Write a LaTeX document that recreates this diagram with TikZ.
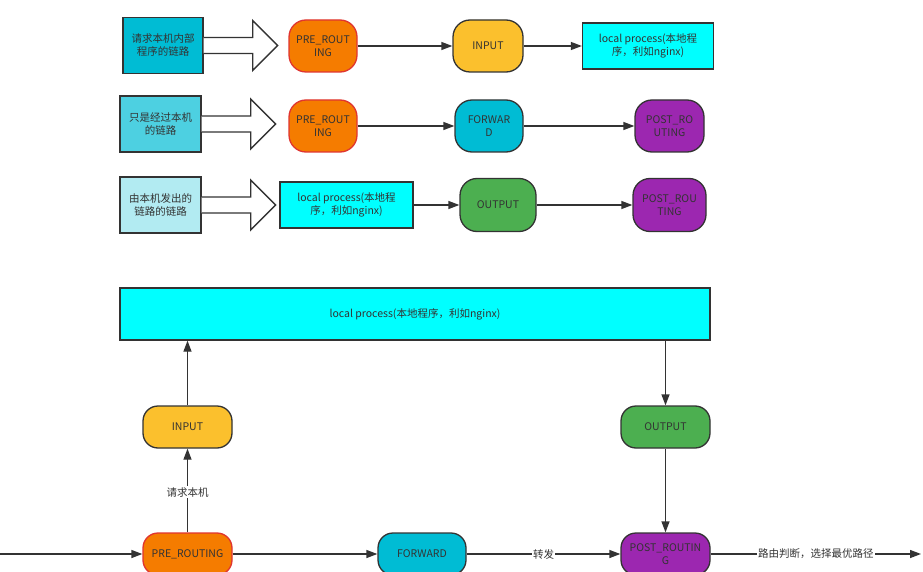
\documentclass[tikz,border=0pt]{standalone}
\usepackage{fontspec}
\setmainfont{Noto Sans CJK SC}
\usetikzlibrary{arrows.meta}
\definecolor{bd}{HTML}{333333}
\definecolor{txt}{HTML}{333333}
\definecolor{cyanA}{HTML}{00BCD4}
\definecolor{cyanB}{HTML}{4DD0E1}
\definecolor{cyanC}{HTML}{B2EBF2}
\definecolor{aqua}{HTML}{00FFFF}
\definecolor{orangeN}{HTML}{F57C00}
\definecolor{redB}{HTML}{E03530}
\definecolor{yellowN}{HTML}{FBC02D}
\definecolor{purpleN}{HTML}{9C27B0}
\definecolor{greenN}{HTML}{4CAF50}
\begin{document}
\begin{tikzpicture}[x=1pt,y=-1pt,
  every node/.style={font=\fontsize{10.5}{13}\selectfont, text=txt, align=center, inner sep=0pt},
  rnode/.style={draw=bd, line width=1.3pt, rounded corners=17pt},
  rsmall/.style={draw=bd, line width=1.3pt, rounded corners=15pt},
  sbox/.style={draw=bd, line width=1.3pt},
  conn/.style={draw=bd, line width=1.3pt, -{Triangle[length=11pt,width=8pt]}},
  hollow/.style={draw=bd, fill=white, line width=1.3pt, line join=miter},
  lbl/.style={fill=white, inner sep=1pt}
]
\useasboundingbox (0,0) rectangle (923,572);
\fill[white] (0,0) rectangle (923,572);

% ---------- row 1 ----------
\node[sbox, fill=cyanA, minimum width=80pt, minimum height=56pt] (b1) at (163,45.5) {请求本机内部\\程序的链路};
\node[rnode, fill=orangeN, draw=redB, minimum width=68pt, minimum height=52pt] (pre1) at (323,46) {PRE\_ROUT\\ING};
\node[rnode, fill=yellowN, minimum width=70pt, minimum height=52pt] (in1) at (488,46) {INPUT};
\node[sbox, fill=aqua, minimum width=131pt, minimum height=46pt] (lp1) at (648,46) {local process(本地程\\序，利如nginx)};

% ---------- row 2 ----------
\node[sbox, fill=cyanB, minimum width=81pt, minimum height=56pt] (b2) at (160.5,124) {只是经过本机\\的链路};
\node[rnode, fill=orangeN, draw=redB, minimum width=68pt, minimum height=52pt] (pre2) at (323,126) {PRE\_ROUT\\ING};
\node[rnode, fill=cyanA, minimum width=68pt, minimum height=52pt] (fw1) at (489,126) {FORWAR\\D};
\node[rnode, fill=purpleN, minimum width=69pt, minimum height=52pt] (po1) at (669.5,126) {POST\_RO\\UTING};

% ---------- row 3 ----------
\node[sbox, fill=cyanC, minimum width=81pt, minimum height=56pt] (b3) at (160.5,205) {由本机发出的\\链路的链路};
\node[sbox, fill=aqua, minimum width=133pt, minimum height=46pt] (lp2) at (346.5,205) {local process(本地程\\序，利如nginx)};
\node[rnode, fill=greenN, minimum width=76pt, minimum height=53pt] (out1) at (498,205) {OUTPUT};
\node[rnode, fill=purpleN, minimum width=73pt, minimum height=53pt] (po2) at (669.5,205) {POST\_ROU\\TING};

% hollow arrows
\foreach \b in {b1,b2,b3}{
  \filldraw[hollow] ([yshift=8pt]\b.east) -- ++(49,0) -- ++(0,-17) -- ++(25,25) -- ++(-25,25) -- ++(0,-17) -- ++(-49,0);
}

\draw[conn] (pre1) -- (in1);
\draw[conn] (in1) -- (lp1);
\draw[conn] (pre2) -- (fw1);
\draw[conn] (fw1) -- (po1);
\draw[conn] (lp2) -- (out1);
\draw[conn] (out1) -- (po2);

% ---------- bottom diagram ----------
\node[sbox, fill=aqua, minimum width=590pt, minimum height=52pt] (lpb) at (415,314) {local process(本地程序，利如nginx)};
\node[rsmall, fill=yellowN, minimum width=89pt, minimum height=42pt] (inb) at (187.5,427) {INPUT};
\node[rsmall, fill=greenN, minimum width=89pt, minimum height=42pt] (outb) at (665.5,427) {OUTPUT};
\node[rsmall, fill=orangeN, draw=redB, minimum width=89pt, minimum height=42pt] (preb) at (187.5,554) {PRE\_ROUTING};
\node[rsmall, fill=cyanA, minimum width=88pt, minimum height=42pt] (fwb) at (422,554) {FORWARD};
\node[rsmall, fill=purpleN, minimum width=89pt, minimum height=42pt] (pob) at (665.5,554) {POST\_ROUTIN\\G};
\coordinate (start) at (0,554);
\coordinate (finish) at (921,554);

\draw[conn] (start) -- (preb);
\draw[conn] (preb) -- node[lbl, pos=0.48] {请求本机} (inb);
\draw[conn] (inb.north) -- (inb.north |- lpb.south);
\draw[conn] (lpb.south -| outb.north) -- (outb.north);
\draw[conn] (outb) -- (pob);
\draw[conn] (preb) -- (fwb);
\draw[conn] (fwb) -- node[lbl] {转发} (pob);
\draw[conn] (pob) -- node[lbl] {路由判断，选择最优路径} (finish);
\end{tikzpicture}
\end{document}
